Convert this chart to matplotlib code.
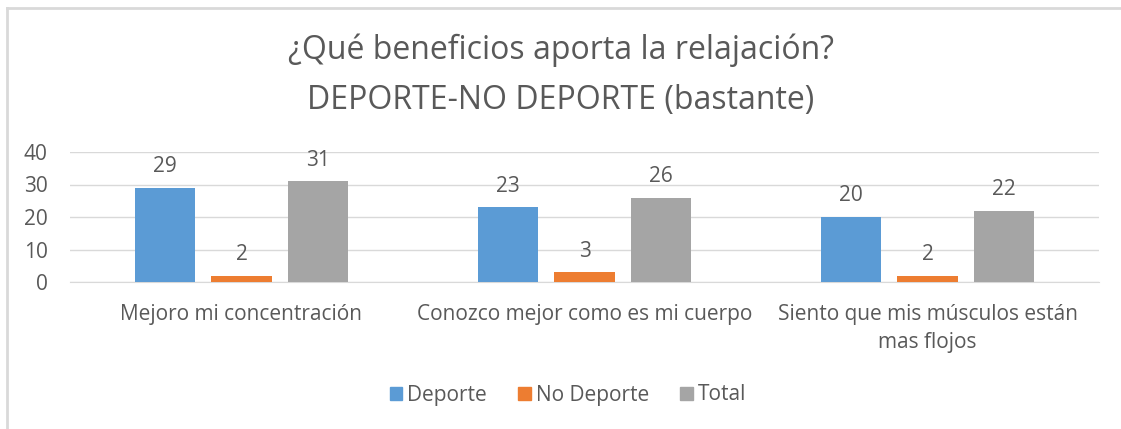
import numpy as np
import matplotlib.pyplot as plt
from matplotlib.patches import Rectangle
from matplotlib.lines import Line2D

# Data
categories = ['Mejoro mi concentración',
              'Conozco mejor como es mi cuerpo',
              'Siento que mis músculos están\nmas flojos']
deporte = [29, 23, 20]
no_deporte = [2, 3, 2]
total = [31, 26, 22]
series_names = ['Deporte', 'No Deporte', 'Total']
colors = ['#5B9BD5', '#ED7D31', '#A5A5A5']

plt.rcParams['font.family'] = ['Open Sans', 'DejaVu Sans']
text_color = '#595959'

fig = plt.figure(figsize=(11.21, 4.29), dpi=100)

# Light frame around the chart area (top and left edges visible)
fig.add_artist(Line2D([7 / 1121, 1], [1 - 8 / 429, 1 - 8 / 429], color='#D9D9D9', lw=2))
fig.add_artist(Line2D([7 / 1121, 7 / 1121], [0, 1 - 8 / 429], color='#D9D9D9', lw=2))

ax = fig.add_axes([70 / 1121, 1 - 282 / 429, (1099 - 70) / 1121, (282 - 152) / 429])

x = np.arange(len(categories))
width = 0.175
offset = 0.222
for i, (vals, name, c) in enumerate(zip([deporte, no_deporte, total], series_names, colors)):
    bars = ax.bar(x + (i - 1) * offset, vals, width, color=c, label=name, zorder=3)
    for b, v in zip(bars, vals):
        ax.text(b.get_x() + b.get_width() / 2, v + 3.3, str(v), ha='center', va='bottom',
                fontsize=15, color=text_color)

ax.set_xlim(-0.5, 2.5)
ax.set_ylim(0, 40)
ax.set_yticks([0, 10, 20, 30, 40])
ax.yaxis.grid(True, color='#D9D9D9', lw=1, zorder=0)
ax.set_axisbelow(True)
for s in ['top', 'right', 'left']:
    ax.spines[s].set_visible(False)
ax.spines['bottom'].set_color('#D9D9D9')
ax.tick_params(axis='both', length=0, colors=text_color, labelsize=15)
ax.tick_params(axis='y', pad=16)
ax.tick_params(axis='x', pad=16)
ax.set_xticks(x)
ax.set_xticklabels(categories, va='top', linespacing=1.45)

fig.text(0.5, 1 - 50 / 429, '¿Qué beneficios aporta la relajación?', ha='center', va='center',
         fontsize=23, color=text_color)
fig.text(0.5, 1 - 100 / 429, 'DEPORTE-NO DEPORTE (bastante)', ha='center', va='center',
         fontsize=23, color=text_color)

handles = [Rectangle((0, 0), 1, 1, color=c) for c in colors]
fig.legend(handles, series_names, loc='center', bbox_to_anchor=(568 / 1121, 1 - 395 / 429),
           ncol=3, frameon=False, fontsize=15, labelcolor=text_color,
           handlelength=0.6, handleheight=0.6, handletextpad=0.25, columnspacing=1.5)

fig.savefig('out.png', dpi=100, facecolor='white')
